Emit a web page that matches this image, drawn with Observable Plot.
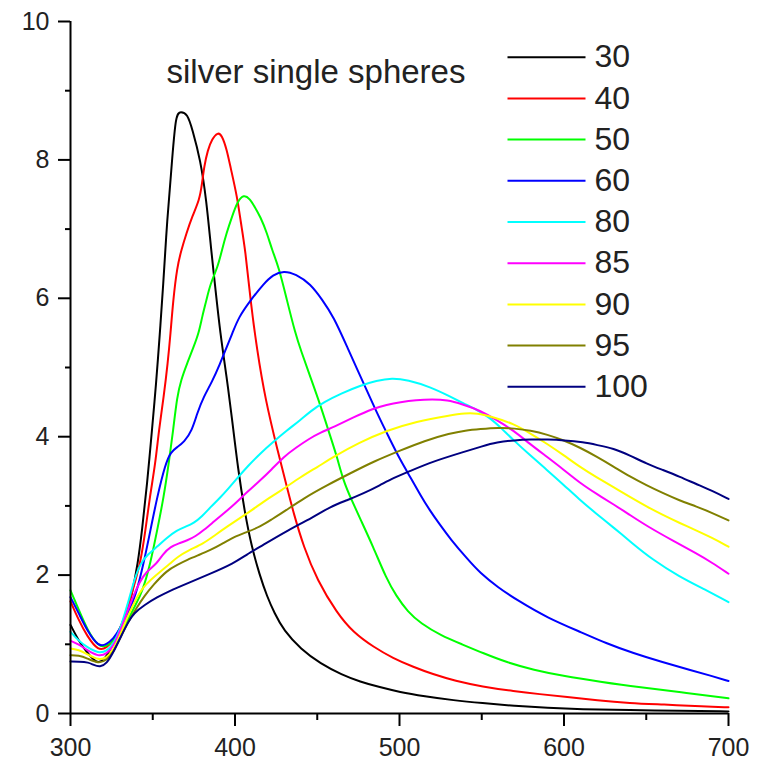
<!DOCTYPE html>
<html><head><meta charset="utf-8">
<script src="https://cdn.jsdelivr.net/npm/d3@7"></script>
<script src="https://cdn.jsdelivr.net/npm/@observablehq/plot@0.6"></script>
<style>
body{margin:0;background:#fff}
#chart svg{font-family:"Liberation Sans",Arial,sans-serif;background:#fff}
</style>
</head><body><div id="chart"></div>
<script>
// ---- tick values ----
const wavelengthTicks = [300, 400, 500, 600, 700];
const wavelengthMinor = [350, 450, 550, 650];
const valueTicks = [0, 2, 4, 6, 8, 10];
const valueMinor = [1, 3, 5, 7, 9];

// ---- series (diameter in nm) ----
const seriesNames = ["30", "40", "50", "60", "80", "85", "90", "95", "100"];
const seriesColors = ["#000000", "#ff0000", "#00ff00", "#0000ff", "#00ffff", "#ff00ff", "#ffff00", "#808000", "#000080"];
const title = "silver single spheres";

// [wavelength, extinction]
const s30 = [[300,1.28],[305,1.05],[310,0.88],[316,0.72],[320,0.76],[325,0.95],[330,1.22],[334,1.45],[337,1.68],[341,2.17],[343.5,2.65],[346.5,3.3],[349.5,4.09],[352,4.75],[354.3,5.49],[356.3,6.16],[358.7,7.13],[361.8,8.0],[364,8.67],[367,8.7],[371,8.67],[374,8.45],[379,8.0],[382.6,7.42],[385.5,6.7],[388,6.16],[391,5.5],[395,4.85],[398,4.3],[402,3.5],[406,2.9],[410,2.42],[415,2.0],[419.5,1.69],[424,1.45],[429.6,1.2],[440,0.93],[452,0.72],[465,0.56],[476,0.46],[488,0.38],[500,0.31],[515,0.25],[533,0.19],[550,0.15],[570,0.11],[590,0.08],[610,0.06],[640,0.05],[670,0.04],[700,0.03]];
const s40 = [[300,1.62],[305,1.35],[310,1.12],[317,0.9],[322,0.95],[326,1.05],[330,1.22],[334,1.45],[338,1.8],[342.5,2.17],[345.6,2.65],[348.2,3.13],[351.6,3.61],[353.7,4.09],[356.7,4.58],[359.1,5.06],[360.8,5.49],[362.4,5.97],[364.8,6.45],[367.4,6.7],[370.5,6.94],[373.9,7.18],[378.4,7.42],[380,7.66],[381.2,7.9],[383.4,8.14],[386,8.3],[389.5,8.4],[392,8.36],[395,8.15],[397.2,7.9],[401.3,7.47],[403.5,7.1],[406.3,6.7],[409.4,5.97],[413.4,5.25],[418.5,4.53],[425.9,3.8],[432,3.23],[435.7,2.89],[441.7,2.41],[449.9,1.93],[462,1.45],[472,1.17],[484.3,0.96],[496,0.8],[508.6,0.67],[520,0.57],[534,0.47],[550,0.39],[570,0.32],[585,0.28],[601.7,0.24],[620,0.19],[640,0.15],[660,0.13],[685,0.10],[700,0.09]];
const s50 = [[300,1.78],[305,1.5],[310,1.22],[317,0.96],[322,0.97],[326,1.05],[330,1.18],[335,1.35],[339,1.55],[343.6,1.75],[348.6,2.17],[352.7,2.65],[356.7,3.13],[359.7,3.61],[362.4,4.09],[364.8,4.58],[367.2,4.82],[370.9,5.06],[374.9,5.3],[378,5.5],[380,5.73],[382.6,5.97],[385,6.21],[389.5,6.45],[392.1,6.7],[394.8,6.94],[398.2,7.18],[401.5,7.4],[405.3,7.5],[409,7.44],[412,7.32],[415.4,7.18],[419.5,6.94],[422.5,6.7],[426.6,6.45],[431.6,5.97],[436.7,5.49],[440,5.25],[446,4.85],[452,4.45],[458,4.0],[462,3.71],[466,3.35],[471,3.08],[476,2.82],[484,2.41],[492,1.95],[498,1.7],[505,1.47],[513,1.3],[525,1.13],[538,1.0],[551,0.87],[565,0.74],[581.5,0.63],[600,0.54],[622,0.46],[645,0.38],[670.6,0.31],[700,0.22]];
const s60 = [[300,1.68],[305,1.45],[310,1.2],[317,0.96],[322,1.0],[326,1.08],[330,1.22],[335,1.45],[339.5,1.69],[344.5,2.17],[348.6,2.65],[352.7,3.13],[357.7,3.61],[361,3.78],[364.8,3.85],[369,3.92],[373.9,4.09],[377,4.34],[381,4.58],[386,4.79],[391,5.06],[394.5,5.27],[398.5,5.5],[402.3,5.73],[409.4,5.97],[417.4,6.21],[423,6.34],[429.6,6.4],[437,6.35],[445.8,6.21],[453,5.98],[460,5.73],[468.1,5.3],[478.2,4.77],[487.3,4.29],[493.4,4.0],[500.5,3.66],[507,3.4],[512.6,3.16],[518,2.95],[524.8,2.72],[531,2.52],[541,2.24],[549,2.03],[560,1.82],[571.4,1.64],[590,1.38],[611.9,1.16],[625,1.02],[642.2,0.87],[660,0.74],[676.7,0.63],[690,0.54],[700,0.47]];
const s80 = [[300,1.18],[305,1.05],[310,0.96],[317,0.87],[322,0.9],[326,1.0],[330,1.2],[335,1.6],[339,1.95],[342.5,2.17],[347,2.3],[352.7,2.41],[358,2.53],[364.8,2.65],[370,2.7],[374.9,2.75],[380,2.85],[385,2.98],[391,3.12],[396,3.25],[401.3,3.4],[408,3.58],[415.4,3.76],[423.5,3.93],[431,4.08],[439.7,4.24],[446,4.37],[453.9,4.5],[465,4.63],[476.2,4.74],[486,4.81],[495.4,4.85],[505,4.82],[518.7,4.72],[530.9,4.58],[539,4.48],[547,4.39],[555.2,4.27],[562,4.12],[569.3,3.95],[579,3.74],[589.6,3.52],[600,3.3],[609,3.1],[619,2.9],[631,2.67],[641,2.47],[654,2.22],[670,1.98],[685,1.8],[700,1.61]];
const s85 = [[300,1.05],[305,1.0],[310,0.92],[317,0.82],[322,0.86],[326,0.97],[330,1.18],[335,1.5],[338,1.69],[342,1.9],[346,2.05],[352.7,2.17],[356,2.3],[360.8,2.41],[366,2.46],[370.9,2.5],[376,2.56],[381,2.65],[387,2.77],[393.1,2.89],[400,3.03],[407.3,3.2],[415.4,3.37],[422,3.52],[429.6,3.71],[437,3.84],[445,3.97],[452,4.06],[460,4.14],[472,4.28],[484.3,4.41],[492,4.46],[500.5,4.5],[510,4.53],[520,4.54],[529,4.53],[538,4.47],[549,4.38],[559,4.24],[569.3,4.09],[579,3.9],[589.6,3.71],[600,3.52],[609.8,3.33],[620,3.17],[631,3.01],[640,2.87],[651,2.7],[666,2.5],[680.7,2.31],[690,2.18],[700,2.02]];
const s90 = [[300,0.94],[305,0.92],[310,0.86],[317,0.77],[322,0.8],[326,0.92],[330,1.12],[335,1.42],[340.5,1.69],[344,1.82],[348.6,1.93],[355,2.06],[360.8,2.17],[364.8,2.26],[372,2.36],[381,2.46],[388,2.58],[395.2,2.70],[404,2.84],[413.4,2.99],[419,3.09],[428,3.22],[440,3.42],[450,3.56],[460,3.71],[475,3.91],[492.4,4.09],[510,4.22],[530.9,4.31],[540,4.34],[547,4.34],[556,4.29],[569.3,4.19],[580,4.04],[589.6,3.90],[600,3.73],[609.8,3.56],[620,3.41],[630.1,3.27],[640,3.13],[650.3,2.99],[660,2.87],[670.6,2.75],[680,2.65],[690.8,2.53],[700,2.41]];
const s95 = [[300,0.84],[305,0.84],[310,0.8],[317,0.72],[322,0.77],[326,0.88],[330,1.08],[335,1.32],[340,1.52],[345,1.7],[350,1.85],[358.7,2.07],[365,2.15],[370.9,2.22],[378,2.29],[385,2.36],[392,2.45],[399.2,2.55],[407,2.62],[415.4,2.70],[422,2.8],[430,2.92],[441.7,3.11],[456,3.3],[470,3.47],[485,3.65],[500.5,3.80],[515,3.94],[530.9,4.05],[540,4.09],[549,4.11],[560,4.13],[570,4.12],[579.5,4.09],[590,4.03],[599.7,3.95],[610,3.84],[620,3.71],[630,3.57],[640.2,3.42],[650,3.3],[660.5,3.18],[670,3.08],[680.7,2.99],[690,2.9],[700,2.79]];
const s100 = [[300,0.75],[305,0.75],[311,0.74],[314,0.7],[318,0.67],[322,0.72],[326,0.88],[331.4,1.15],[335,1.32],[338.5,1.45],[345,1.57],[352.7,1.68],[360,1.77],[370.9,1.88],[385,2.02],[399.2,2.17],[407.3,2.3],[415.4,2.41],[430,2.62],[447.8,2.84],[458,2.99],[468,3.08],[478.2,3.18],[488.3,3.3],[496,3.4],[506,3.5],[520,3.64],[539,3.78],[550,3.86],[559.2,3.92],[570,3.95],[580,3.96],[590,3.96],[600,3.95],[611.9,3.92],[620,3.88],[630.1,3.83],[640,3.73],[650.3,3.61],[660,3.52],[670.6,3.42],[680,3.32],[690,3.22],[700,3.1]];

const seriesData = [s30, s40, s50, s60, s80, s85, s90, s95, s100];
const rows = seriesData.flatMap((s, i) => s.map(([x, y]) => ({x, y, name: seriesNames[i]})));

// ---- layout ----
const W = 769, H = 764, mL = 70, mR = 41, mT = 21, mB = 51;
const X0 = 300, X1 = 700, Y0 = 0, Y1 = 10;
// pixel -> data helpers for the in-plot legend/title placement
const pxToX = px => X0 + (px - mL) * (X1 - X0) / (W - mL - mR);
const pyToY = py => Y0 + (H - mB - py) * (Y1 - Y0) / (H - mT - mB);
const legendRows = seriesNames.map((name, i) => {
  const py = 56.7 + i * 41.2;
  return {name, x1: pxToX(507), x2: pxToX(585), xt: pxToX(594), y: pyToY(py)};
});

const chart = Plot.plot({
  width: W, height: H,
  marginLeft: mL, marginRight: mR, marginTop: mT, marginBottom: mB,
  x: {domain: [X0, X1], axis: null},
  y: {domain: [Y0, Y1], axis: null},
  color: {domain: seriesNames, range: seriesColors},
  style: {fontFamily: '"Liberation Sans", Arial, sans-serif', background: "#fff"},
  marks: [
    Plot.line(rows, {x: "x", y: "y", z: "name", stroke: "name", strokeWidth: 2, curve: "basis"}),
    // axes
    Plot.axisY(valueTicks, {anchor: "left", tickSize: 12, tickPadding: 9, fontSize: 25, tickFormat: d => String(d), label: null, strokeWidth: 2, stroke: "#000", fill: "#222"}),
    Plot.axisY(valueMinor, {anchor: "left", tickSize: 5, tickFormat: () => "", label: null, strokeWidth: 2, stroke: "#000"}),
    Plot.axisX(wavelengthTicks, {anchor: "bottom", tickSize: 13, tickPadding: 12, fontSize: 25, tickFormat: d => String(d), label: null, strokeWidth: 2, stroke: "#000", fill: "#222"}),
    Plot.axisX(wavelengthMinor, {anchor: "bottom", tickSize: 7, tickFormat: () => "", label: null, strokeWidth: 2, stroke: "#000"}),
    Plot.ruleX([X0], {stroke: "#000", strokeWidth: 2}),
    Plot.ruleY([Y0], {stroke: "#000", strokeWidth: 2}),
    // title
    Plot.text([title], {x: pxToX(166), y: pyToY(82), textAnchor: "start", lineAnchor: "bottom", fontSize: 33, fill: "#222"}),
    // legend
    Plot.link(legendRows, {x1: "x1", x2: "x2", y1: "y", y2: "y", stroke: "name", strokeWidth: 2}),
    Plot.text(legendRows, {x: "xt", y: "y", text: "name", textAnchor: "start", lineAnchor: "middle", fontSize: 32, fill: "#222"})
  ]
});
document.getElementById("chart").appendChild(chart);
</script>
</body></html>
